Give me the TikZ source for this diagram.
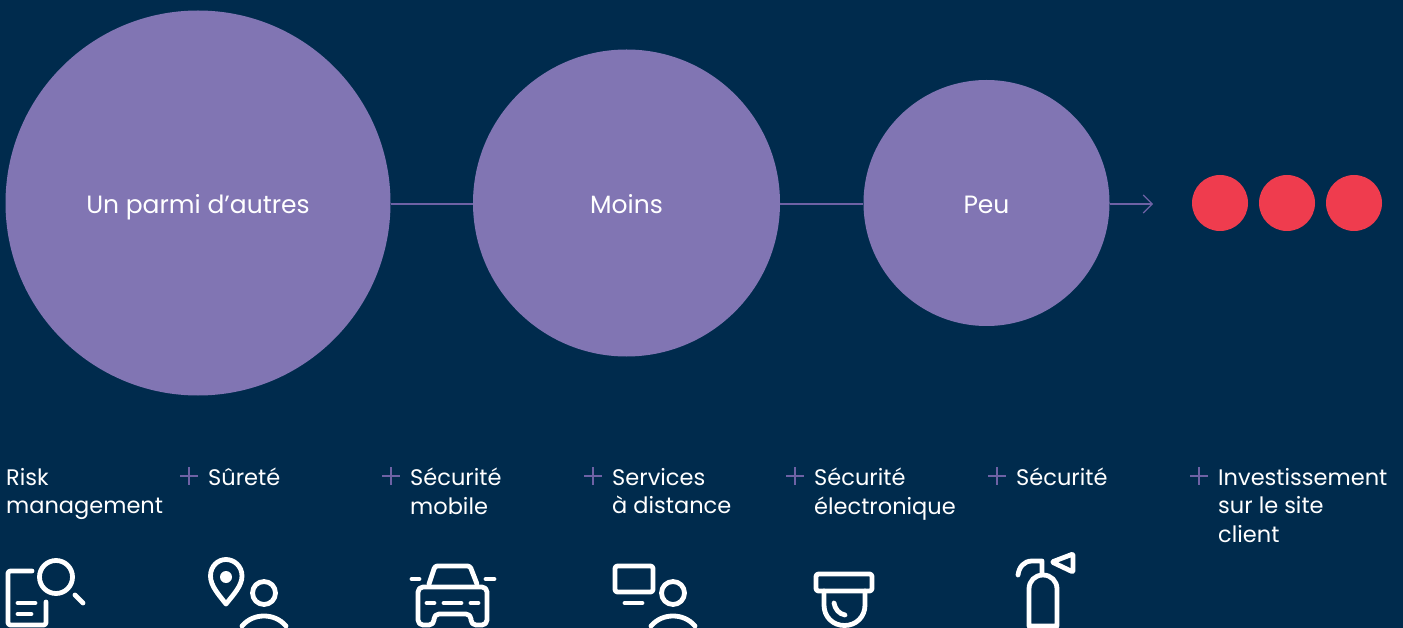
\documentclass[tikz,border=0pt]{standalone}
\usepackage{fontspec}
\setmainfont{Poppins}
\usepackage{tikz}
\usetikzlibrary{arrows.meta}
\definecolor{navy}{RGB}{0,43,77}
\definecolor{lilac}{RGB}{129,117,179}
\definecolor{lineviolet}{RGB}{110,98,165}
\definecolor{dotred}{RGB}{239,60,78}

\begin{document}
\begin{tikzpicture}[x=1pt,y=-1pt]

\tikzset{bubble/.style={shape=circle,fill=lilac,text=white,inner sep=0pt,text height=26pt,text depth=4pt,font=\fontsize{25}{30}\selectfont},
reddot/.style={shape=circle,fill=dotred,inner sep=0pt,minimum size=56pt},
steplabel/.style={anchor=north west,inner sep=0pt,align=left,text=white,font=\fontsize{22.5}{28.6}\selectfont},
link/.style={draw=lineviolet,line width=1.1pt},
icon/.style={draw=white,line width=4.8pt,line cap=round,line join=round,rounded corners=2.5pt}}

% Background
\useasboundingbox (0,0) rectangle (1403,628);
\clip (0,0) rectangle (1403,628);
\fill[navy] (0,0) rectangle (1403,628);

% Connectors first, the bubbles sit on top
\coordinate (arrowEnd) at (1153,204);
\node[bubble,minimum size=385pt] (bubbleA) at (198,203) {Un parmi d’autres};
\node[bubble,minimum size=307pt] (bubbleB) at (626.5,203) {Moins};
\node[bubble,minimum size=246pt] (bubbleC) at (986.5,203) {Peu};
\draw[link] (bubbleA.east |- arrowEnd) -- (bubbleB.west |- arrowEnd);
\draw[link] (bubbleB.east |- arrowEnd) -- (bubbleC.west |- arrowEnd);
\draw[link,-{Straight Barb[length=9pt,width=18pt]}] (bubbleC.east |- arrowEnd) -- (arrowEnd);

% Red dots
\foreach \x/\n in {1220/1, 1287/2, 1354/3} \node[reddot] (dot\n) at (\x,203) {};

% Step labels
\node[steplabel] (lab1) at (6,468) {Risk\\management};
\node[steplabel] (lab2) at (208,468) {Sûreté};
\node[steplabel] (lab3) at (410,468) {Sécurité\\mobile};
\node[steplabel] (lab4) at (612,468) {Services\\à distance};
\node[steplabel] (lab5) at (814,468) {Sécurité\\électronique};
\node[steplabel] (lab6) at (1016,468) {Sécurité};
\node[steplabel] (lab7) at (1218,468) {Investissement\\sur le site\\client};

% Plus signs
\foreach \x in {189, 391, 593, 795, 997, 1199} {
\draw[link] (\x-9,476) -- (\x+9,476);
\draw[link] (\x,467) -- (\x,485);
}

% Icon: document and magnifier
\draw[icon] (32,571) -- (8,571) -- (8,625) -- (46,625) -- (46,602);
\draw[icon] (18,603) -- (35,603);
\draw[icon] (18,614) -- (31,614);
\draw[icon] (56,577) circle (16.5);
\draw[icon] (75,595) -- (83,603);

% Icon: pin
\draw[icon,rounded corners=0pt] (226,604) .. controls (219,595) and (210.5,586) .. (210.5,576) .. controls (210.5,566) and (218,559.5) .. (226,559.5) .. controls (234,559.5) and (242,566) .. (242,576) .. controls (242,586) and (233,595) .. (226,604) -- cycle;
\fill[white] (226,577) circle (6);

% Icon: persons (pin and screen)
\foreach \x in {264, 673} {
\draw[icon] (\x,593) circle (11.5);
\draw[icon,rounded corners=0pt] (\x-22,626) .. controls (\x-16,619) and (\x-8,616) .. (\x,616) .. controls (\x+8,616) and (\x+16,619) .. (\x+22,626);
}

% Icon: car
\draw[icon] (429,584) -- (435,566) -- (470,566) -- (477,584);
\draw[icon,rounded corners=5pt] (418,625) -- (418,587) -- (487,587) -- (487,625) -- (471,625) -- (471,614) -- (434,614) -- (434,625) -- cycle;
\foreach \a/\b in {412/419, 486/494, 427/434, 444/461, 471/478} {
\pgfmathsetmacro{\yy}{\a<420 || \a>480 ? 579 : 603}
\draw[icon] (\a,\yy) -- (\b,\yy);
}

% Icon: screen
\draw[icon] (615,566) rectangle (653,592);
\draw[icon] (625,603) -- (642,603);

% Icon: camera
\draw[icon] (816,574) rectangle (872,591);
\draw[icon,rounded corners=0pt] (824,591) -- (824,605) .. controls (824,617) and (833,625.5) .. (844.5,625.5) .. controls (856,625.5) and (865,617) .. (865,605) -- (865,591);
\draw[icon,rounded corners=0pt] (834,603) .. controls (835,609) and (839,614) .. (845,615);

% Icon: extinguisher
\draw[icon,rounded corners=0pt] (1029,626) -- (1029,589) .. controls (1029,581) and (1035,575) .. (1043,575) .. controls (1051,575) and (1057,581) .. (1057,589) -- (1057,626) -- cycle;
\draw[icon,rounded corners=0pt] (1042,574) -- (1042,561) -- (1032,561) .. controls (1024,561) and (1019,567) .. (1018,575);
\draw[icon,rounded corners=1pt] (1052,562) -- (1073,554) -- (1073,572) -- cycle;

\end{tikzpicture}
\end{document}
